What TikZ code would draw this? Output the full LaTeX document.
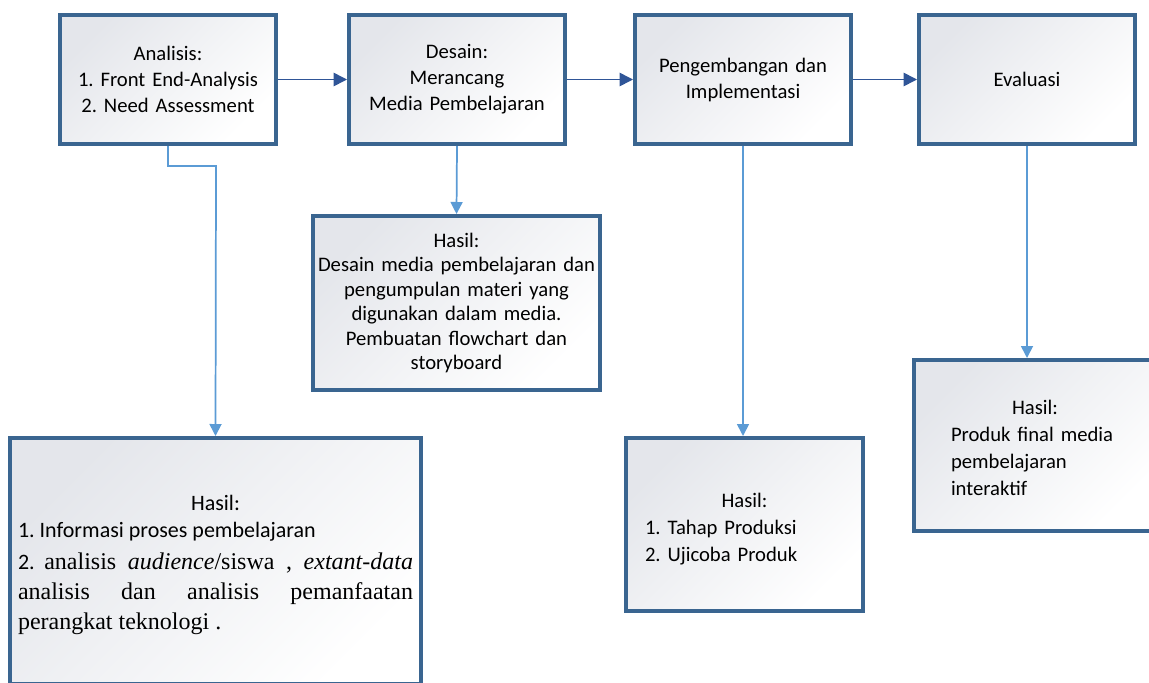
\documentclass[tikz,border=0pt]{standalone}
\usepackage{fontspec}
\setmainfont{Carlito}
\newfontfamily\timesfont{Liberation Serif}
\usetikzlibrary{arrows.meta}
\frenchspacing

\definecolor{boxline}{HTML}{3A6590}
\definecolor{boxshade}{HTML}{E4E6EB}
\definecolor{flowblue}{HTML}{2F5597}
\definecolor{linkblue}{HTML}{5B9BD5}

\newcommand{\judul}[1]{\raisebox{0pt}[\dimexpr\height+#1\relax]{Hasil:}}

\tikzset{
  panel/.style={draw=boxline, line width=3pt, top color=boxshade, bottom color=white, shading angle=45, inner sep=0pt},
  stage/.style={panel, minimum width=162pt, minimum height=96.75pt, text width=152pt, align=center, font=\fontsize{15.5}{19.5}\selectfont},
  result/.style={panel, align=left, font=\fontsize{15.5}{20.25}\selectfont},
  flow/.style={draw=flowblue, line width=1.2pt, -{Triangle[length=10pt,width=10pt]}},
  link/.style={draw=linkblue, line width=1.3pt, -{Triangle[length=9pt,width=9pt]}}
}

\begin{document}
\begin{tikzpicture}[x=0.75pt,y=-0.75pt]
  \useasboundingbox (0,0) rectangle (1149,682);
  \clip (0,0) rectangle (1149,682);

  \node[stage] (analisis) at (168,79.5) {Analisis:\\1. Front End-Analysis\\2. Need Assessment};
  \node[stage] (desain) at (457,79.5) {Desain:\\Merancang\\Media Pembelajaran};
  \node[stage] (pengembangan) at (743,79.5) {Pengembangan dan\\Implementasi};
  \node[stage] (evaluasi) at (1027,79.5) {Evaluasi};

  \node[result, minimum width=215.25pt, minimum height=130.5pt, text width=208pt, align=center,
        font=\fontsize{15.5}{18.4}\selectfont] (hasildesain) at (456.5,303)
    {Hasil:\\Desain media pembelajaran dan\\pengumpulan materi yang\\digunakan dalam media.\\Pembuatan flowchart dan\\storyboard};
  \node[result, minimum width=308.25pt, minimum height=184.5pt, text width=296.25pt, align=justify] (hasilanalisis) at (215.5,561)
    {{\centering\fontsize{16.5}{20.25}\selectfont \judul{6pt}\par}
     {\fontsize{16.5}{20.25}\selectfont 1. Informasi proses pembelajaran\par}
     \vspace{2pt}
     {\fontsize{16.5}{22.5}\selectfont 2. }{\timesfont\fontsize{18}{22.5}\selectfont analisis \textit{audience}/siswa , \textit{extant-data}\linebreak
     analisis dan analisis pemanfaatan\linebreak perangkat teknologi .\par}};
  \node[result, minimum width=177.75pt, minimum height=129.75pt, text width=149.25pt] (hasilproduksi) at (744.5,524.5)
    {{\centering \judul{7pt}\par}1. Tahap Produksi\\2. Ujicoba Produk};
  \node[result, minimum width=181.5pt, minimum height=128.25pt, text width=126pt] (hasilevaluasi) at (1035,445.5)
    {{\centering \judul{3pt}\par}Produk final media\\pembelajaran\\interaktif};

  \coordinate (belok) at (216,166);

  \draw[flow] (analisis) -- (desain);
  \draw[flow] (desain) -- (pengembangan);
  \draw[flow] (pengembangan) -- (evaluasi);

  \draw[link] (analisis.south) |- (belok) -- (hasilanalisis.north);
  \draw[link] (desain.south) -- (hasildesain.north);
  \draw[link] (pengembangan.south) -- (pengembangan.south |- hasilproduksi.north);
  \draw[link] (evaluasi.south) -- (evaluasi.south |- hasilevaluasi.north);
\end{tikzpicture}
\end{document}
